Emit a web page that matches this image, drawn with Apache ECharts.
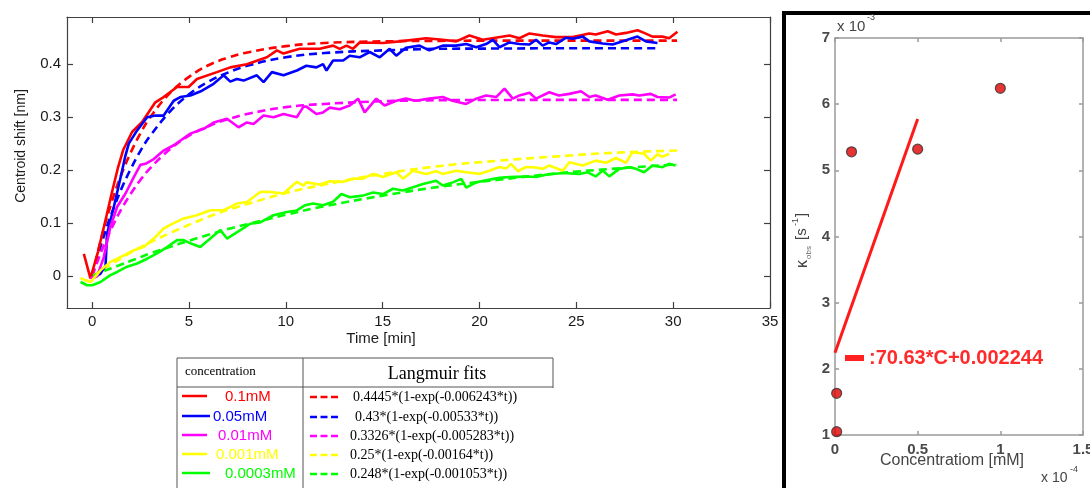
<!DOCTYPE html>
<html><head><meta charset="utf-8">
<script src="https://cdn.jsdelivr.net/npm/echarts@6.0.0/dist/echarts.min.js"></script>
<style>html,body{margin:0;padding:0;background:#fff}#c{width:1090px;height:488px}</style>
</head><body><div id="c"></div>
<script>
// ---------- left chart: measured centroid shift (solid) ----------
const redT = [-0.43,-0.09,0.3,0.65,1.0,1.34,1.6,2.06,2.58,3.26,3.69,4.38,4.98,5.41,6.44,7.13,7.99,9.02,9.54,9.88,10.4,10.72,11.75,12.44,12.78,13.13,13.47,13.81,15.02,15.88,17.25,18.1,18.8,19.48,20.17,21.55,22.06,22.58,23.26,23.95,24.81,25.67,26.0,26.62,27.05,27.56,28.16,28.5,28.93,29.45,29.79,30.22];
const redV = [0.042,-0.004,0.046,0.1,0.155,0.206,0.238,0.272,0.291,0.328,0.338,0.357,0.357,0.372,0.385,0.394,0.40,0.413,0.426,0.42,0.426,0.429,0.429,0.435,0.429,0.435,0.429,0.441,0.44,0.443,0.449,0.446,0.443,0.454,0.446,0.454,0.449,0.458,0.454,0.451,0.451,0.458,0.456,0.462,0.456,0.459,0.464,0.459,0.452,0.452,0.449,0.461];

const blueT = [0,0.43,0.69,0.77,1.12,1.55,1.7,1.89,2.32,2.84,3.26,3.69,4.21,4.55,5.07,5.67,6.27,6.79,7.13,7.47,7.82,8.5,8.85,9.28,9.88,10.57,11.06,11.58,11.92,12.1,12.44,12.96,13.3,13.81,14.33,14.85,15.36,15.7,16.2,16.9,17.41,18.1,18.79,19.31,19.83,20.34,20.69,21.03,21.55,22.06,22.58,22.92,23.26,23.6,23.95,24.47,24.81,25.33,25.67,26.36,26.87,27.56,28.16,28.59,29.19];
const blueV = [-0.005,0.005,0.02,0.08,0.131,0.2,0.225,0.25,0.275,0.30,0.303,0.303,0.331,0.338,0.341,0.35,0.363,0.379,0.367,0.372,0.369,0.379,0.366,0.385,0.379,0.388,0.397,0.394,0.40,0.388,0.407,0.407,0.416,0.413,0.423,0.413,0.429,0.416,0.431,0.435,0.426,0.435,0.435,0.438,0.432,0.438,0.446,0.432,0.441,0.438,0.437,0.446,0.435,0.441,0.438,0.45,0.448,0.452,0.443,0.439,0.437,0.445,0.452,0.443,0.44];

const magT = [-0.09,0.26,0.6,0.94,1.29,1.72,2.15,2.49,2.75,3.18,3.69,4.21,5.07,5.76,6.27,6.96,7.56,7.99,8.33,8.85,9.37,9.88,10.57,10.91,11.06,11.58,11.92,12.27,12.78,13.3,13.73,14.07,14.67,15.1,15.7,16.2,16.7,17.4,18.1,18.6,19.31,19.83,20.34,20.86,21.29,21.72,22.06,22.58,22.92,23.6,24.1,24.64,25.24,25.67,26.0,26.62,27.22,27.9,28.25,28.84,29.19,29.79,30.13];
const magV = [-0.004,0,0.036,0.093,0.131,0.156,0.187,0.21,0.212,0.221,0.237,0.247,0.269,0.278,0.29,0.297,0.281,0.29,0.287,0.303,0.30,0.306,0.30,0.32,0.32,0.306,0.309,0.318,0.315,0.322,0.335,0.309,0.335,0.322,0.331,0.335,0.331,0.335,0.338,0.331,0.325,0.335,0.341,0.338,0.354,0.335,0.341,0.346,0.335,0.347,0.341,0.344,0.349,0.338,0.341,0.333,0.341,0.343,0.341,0.344,0.338,0.337,0.343];

const yelT = [-0.6,-0.09,0.43,0.94,1.46,2.15,2.66,3.18,3.69,4.21,4.73,5.41,6.1,6.79,7.47,7.99,8.68,9.2,9.88,10.57,10.91,11.06,11.75,12.27,12.96,13.47,13.98,14.5,15.02,15.7,16.05,16.57,17.25,17.76,18.1,18.79,19.31,19.99,20.51,21.03,21.37,21.63,21.98,22.4,22.92,23.26,23.6,24.3,24.64,25.33,26.0,26.53,27.05,27.56,27.9,28.5,28.84,29.19,29.45,29.79];
const yelV = [-0.004,-0.011,0.011,0.027,0.036,0.049,0.055,0.071,0.09,0.1,0.109,0.115,0.1245,0.1245,0.137,0.14,0.159,0.159,0.156,0.178,0.171,0.177,0.173,0.179,0.178,0.184,0.184,0.193,0.187,0.196,0.184,0.199,0.193,0.198,0.193,0.199,0.196,0.193,0.199,0.206,0.203,0.212,0.198,0.206,0.205,0.2025,0.209,0.199,0.215,0.209,0.218,0.214,0.223,0.214,0.234,0.231,0.218,0.23,0.225,0.231];

const grnT = [-0.6,-0.26,0,0.43,0.94,1.29,1.8,2.32,2.84,3.35,3.87,4.38,4.73,5.07,5.58,6.1,6.62,6.96,7.65,8.16,8.68,9.36,10.05,10.57,11.0,11.4,11.92,12.44,12.87,13.3,13.98,14.5,15.02,15.53,16.05,16.57,17.08,17.76,18.1,18.62,19.06,19.31,19.83,20.34,21.03,21.55,22.4,22.92,23.43,24.3,25.15,25.59,26.0,26.36,26.7,27.22,27.73,28.08,28.5,28.93,29.45,29.79,30.13];
const grnV = [-0.011,-0.017,-0.017,-0.011,0.002,0.008,0.018,0.024,0.033,0.043,0.055,0.068,0.068,0.062,0.055,0.071,0.087,0.071,0.087,0.099,0.1015,0.115,0.121,0.124,0.134,0.137,0.134,0.1405,0.155,0.149,0.152,0.158,0.155,0.165,0.1615,0.168,0.174,0.18,0.171,0.177,0.1836,0.167,0.177,0.181,0.1855,0.187,0.188,0.187,0.1915,0.1946,0.1927,0.196,0.1883,0.1993,0.1883,0.2025,0.2057,0.2025,0.1962,0.2088,0.2057,0.212,0.2088];

// ---------- left chart: Langmuir fits (dashed) ----------
const fitT     = [0,0.5,1,1.5,2,2.5,3,4,5,6,7,8,10,12,15,18,21,24,27,30.2];
const fitTBlue = [0,0.5,1,1.5,2,2.5,3,4,5,6,7,8,10,12,15,18,21,24,27,29.2];
const fitRed   = [0,0.076,0.139,0.191,0.234,0.270,0.300,0.345,0.376,0.398,0.412,0.422,0.434,0.440,0.443,0.444,0.4445,0.4445,0.4445,0.4445];
const fitBlue  = [0,0.064,0.118,0.164,0.203,0.237,0.265,0.310,0.343,0.367,0.384,0.397,0.413,0.421,0.426,0.429,0.4295,0.430,0.430,0.430];
const fitMag   = [0,0.049,0.090,0.126,0.156,0.182,0.204,0.239,0.265,0.283,0.296,0.306,0.319,0.325,0.330,0.332,0.3325,0.3326,0.3326,0.3326];
const fitYel   = [0,0.012,0.023,0.034,0.045,0.055,0.064,0.081,0.097,0.112,0.125,0.136,0.157,0.173,0.193,0.208,0.218,0.226,0.233,0.237];
const fitGrn   = [0,0.008,0.015,0.022,0.029,0.036,0.043,0.055,0.067,0.078,0.089,0.098,0.116,0.132,0.152,0.169,0.182,0.194,0.203,0.211];

const xTicksL = [0,5,10,15,20,25,30,35];
const yTicksL = [0,0.1,0.2,0.3,0.4];

// ---------- legend table ----------
const concLabels = ['0.1mM','0.05mM','0.01mM','0.001mM','0.0003mM'];
const fitLabels = ['0.4445*(1-exp(-0.006243*t))','0.43*(1-exp(-0.00533*t))','0.3326*(1-exp(-0.005283*t))','0.25*(1-exp(-0.00164*t))','0.248*(1-exp(-0.001053*t))'];
const colors = ['#ff0000','#0000ff','#ff00ff','#ffff00','#00ff00'];

// ---------- right chart: k_obs vs concentration ----------
const concX = [0.01,0.01,0.1,0.5,1.0];
const kobsY = [1.05,1.63,5.28,5.32,6.24];
const lineX = [0,0.5];
const lineY = [2.244,5.776];
const fitText = ':70.63*C+0.002244';

const zip = (a,b)=>a.map((x,i)=>[x,b[i]]);
const SANS = '"Liberation Sans", Arial, sans-serif';
const SERIF = '"Liberation Serif", "Times New Roman", serif';

const solidSets = [[redT,redV],[blueT,blueV],[magT,magV],[yelT,yelV],[grnT,grnV]];
const fitSets = [[fitT,fitRed],[fitTBlue,fitBlue],[fitT,fitMag],[fitT,fitYel],[fitT,fitGrn]];

const series = [];
fitSets.forEach((s,i)=>series.push({type:'line',xAxisIndex:0,yAxisIndex:0,data:zip(s[0],s[1]),showSymbol:false,smooth:0.4,
  lineStyle:{color:colors[i],width:2.6,type:[8,5]},z:2}));
solidSets.forEach((s,i)=>series.push({type:'line',xAxisIndex:0,yAxisIndex:0,data:zip(s[0],s[1]),showSymbol:false,
  lineStyle:{color:colors[i],width:2.6},z:3}));
series.push({type:'line',xAxisIndex:2,yAxisIndex:2,data:zip(lineX,lineY),showSymbol:false,lineStyle:{color:'#ff1a1a',width:3},z:3});
series.push({type:'scatter',xAxisIndex:2,yAxisIndex:2,data:zip(concX,kobsY),symbolSize:10,
  itemStyle:{color:'#e00000',borderColor:'#333',borderWidth:1.2},z:4});

const axL = {color:'#404040',width:1.2};
const graphic = [];
// right panel black frame
graphic.push({type:'rect',shape:{x:784,y:13,width:400,height:520},style:{fill:'none',stroke:'#000',lineWidth:4},z:0});
// axis names left chart
graphic.push({type:'text',x:381,y:339,style:{text:'Time [min]',font:'15px '+SANS,fill:'#1a1a1a',textAlign:'center',textVerticalAlign:'middle'}});
graphic.push({type:'text',x:21,y:146,rotation:Math.PI/2,style:{text:'Centroid shift [nm]',font:'14px '+SANS,fill:'#1a1a1a',textAlign:'center',textVerticalAlign:'middle'}});
// table
const tl = (x1,y1,x2,y2)=>graphic.push({type:'line',shape:{x1,y1,x2,y2},style:{stroke:'#555',lineWidth:1}});
tl(177,358,553,358); tl(177,387,553,387); tl(177,358,177,488); tl(303,358,303,488); tl(553,358,553,388);
graphic.push({type:'text',x:185,y:372,style:{text:'concentration',font:'13px '+SERIF,fill:'#000',textVerticalAlign:'middle'}});
graphic.push({type:'text',x:437,y:374,style:{text:'Langmuir fits',font:'18px '+SERIF,fill:'#000',textAlign:'center',textVerticalAlign:'middle'}});
const rowY = [397,417,436,455,474];
const concX0 = [225,213,218,216,225];
const sampEnd = [207,210,207,207,210];
const fitX0 = [353,355,350,350,350];
concLabels.forEach((lab,i)=>{
  graphic.push({type:'line',shape:{x1:182,y1:rowY[i]-1,x2:sampEnd[i],y2:rowY[i]-1},style:{stroke:colors[i],lineWidth:2.5}});
  graphic.push({type:'text',x:concX0[i],y:rowY[i],style:{text:lab,font:'15px '+SANS,fill:colors[i],textVerticalAlign:'middle'}});
  graphic.push({type:'line',shape:{x1:310,y1:rowY[i],x2:338,y2:rowY[i]},style:{stroke:colors[i],lineWidth:2.5,lineDash:[7,3.5]}});
  graphic.push({type:'text',x:fitX0[i],y:rowY[i],style:{text:fitLabels[i],font:'14px '+SERIF,fill:'#000',textVerticalAlign:'middle'}});
});
// right chart annotations
graphic.push({type:'text',x:837,y:27,style:{text:'x 10',font:'15px '+SANS,fill:'#444',textVerticalAlign:'middle'}});
graphic.push({type:'text',x:867,y:18,style:{text:'-3',font:'9px '+SANS,fill:'#444',textVerticalAlign:'middle'}});
graphic.push({type:'text',x:952,y:461,style:{text:'Concentratiom [mM]',font:'16px '+SANS,fill:'#444',textAlign:'center',textVerticalAlign:'middle'}});
graphic.push({type:'text',x:1041,y:478,style:{text:'x 10',font:'14px '+SANS,fill:'#444',textVerticalAlign:'middle'}});
graphic.push({type:'text',x:1070,y:470,style:{text:'-4',font:'9px '+SANS,fill:'#444',textVerticalAlign:'middle'}});
graphic.push({type:'text',x:803,y:268,rotation:Math.PI/2,style:{text:'κ',font:'16px '+SANS,fill:'#444',textVerticalAlign:'middle'}});
graphic.push({type:'text',x:809,y:259,rotation:Math.PI/2,style:{text:'obs',font:'8px '+SANS,fill:'#666',textVerticalAlign:'middle'}});
graphic.push({type:'text',x:802,y:240,rotation:Math.PI/2,style:{text:'[s',font:'15px '+SANS,fill:'#444',textVerticalAlign:'middle'}});
graphic.push({type:'text',x:796,y:226,rotation:Math.PI/2,style:{text:'-1',font:'9px '+SANS,fill:'#444',textVerticalAlign:'middle'}});
graphic.push({type:'text',x:802,y:217,rotation:Math.PI/2,style:{text:']',font:'15px '+SANS,fill:'#444',textVerticalAlign:'middle'}});
graphic.push({type:'rect',shape:{x:845,y:355,width:19,height:6},style:{fill:'#ff2020'}});
graphic.push({type:'text',x:869,y:358,style:{text:fitText,font:'bold 20px '+SANS,fill:'#ff2a2a',textVerticalAlign:'middle'}});

const axR = {color:'#9a9a9a',width:1.5};
const labR = {color:'#4a4a4a',fontSize:15,fontWeight:'bold',fontFamily:SANS};

const option = {
  animation:false,
  backgroundColor:'#fff',
  grid:[{left:67,top:17,width:703,height:291,outerBoundsMode:'none',containLabel:false},
        {left:835,top:38,width:248,height:397,outerBoundsMode:'none',containLabel:false}],
  xAxis:[
    {type:'value',gridIndex:0,min:-1.3,max:35,position:'bottom',splitLine:{show:false},
     axisLine:{show:true,onZero:false,lineStyle:axL},axisTick:{show:true,inside:true,length:6,lineStyle:axL,customValues:xTicksL},
     axisLabel:{customValues:xTicksL,color:'#1a1a1a',fontSize:15,fontFamily:SANS,margin:6}},
    {type:'value',gridIndex:0,min:-1.3,max:35,position:'top',splitLine:{show:false},
     axisLine:{show:true,onZero:false,lineStyle:axL},axisTick:{show:true,inside:true,length:6,lineStyle:axL,customValues:xTicksL},
     axisLabel:{show:false}},
    {type:'value',gridIndex:1,min:0,max:1.5,interval:0.5,position:'bottom',splitLine:{show:false},
     axisLine:{show:true,onZero:false,lineStyle:axR},axisTick:{show:true,inside:true,length:4,lineStyle:axR},
     axisLabel:Object.assign({margin:7,formatter:v=>String(v)},labR)},
    {type:'value',gridIndex:1,min:0,max:1.5,interval:0.5,position:'top',splitLine:{show:false},
     axisLine:{show:true,onZero:false,lineStyle:axR},axisTick:{show:true,inside:true,length:4,lineStyle:axR},axisLabel:{show:false}}
  ],
  yAxis:[
    {type:'value',gridIndex:0,min:-0.06,max:0.489,position:'left',splitLine:{show:false},
     axisLine:{show:true,onZero:false,lineStyle:axL},axisTick:{show:true,inside:true,length:6,lineStyle:axL,customValues:yTicksL},
     axisLabel:{customValues:yTicksL,color:'#1a1a1a',fontSize:15,fontFamily:SANS,margin:6,formatter:v=>v===0?'0':v.toFixed(1)}},
    {type:'value',gridIndex:0,min:-0.06,max:0.489,position:'right',splitLine:{show:false},
     axisLine:{show:true,onZero:false,lineStyle:axL},axisTick:{show:true,inside:true,length:6,lineStyle:axL,customValues:yTicksL},
     axisLabel:{show:false}},
    {type:'value',gridIndex:1,min:1,max:7,interval:1,position:'left',splitLine:{show:false},
     axisLine:{show:true,onZero:false,lineStyle:axR},axisTick:{show:true,inside:true,length:4,lineStyle:axR},
     axisLabel:Object.assign({margin:5},labR)},
    {type:'value',gridIndex:1,min:1,max:7,interval:1,position:'right',splitLine:{show:false},
     axisLine:{show:true,onZero:false,lineStyle:axR},axisTick:{show:true,inside:true,length:4,lineStyle:axR},axisLabel:{show:false}}
  ],
  series:series,
  graphic:graphic
};
const chart = echarts.init(document.getElementById('c'),null,{renderer:'canvas'});
chart.setOption(option);
</script></body></html>
